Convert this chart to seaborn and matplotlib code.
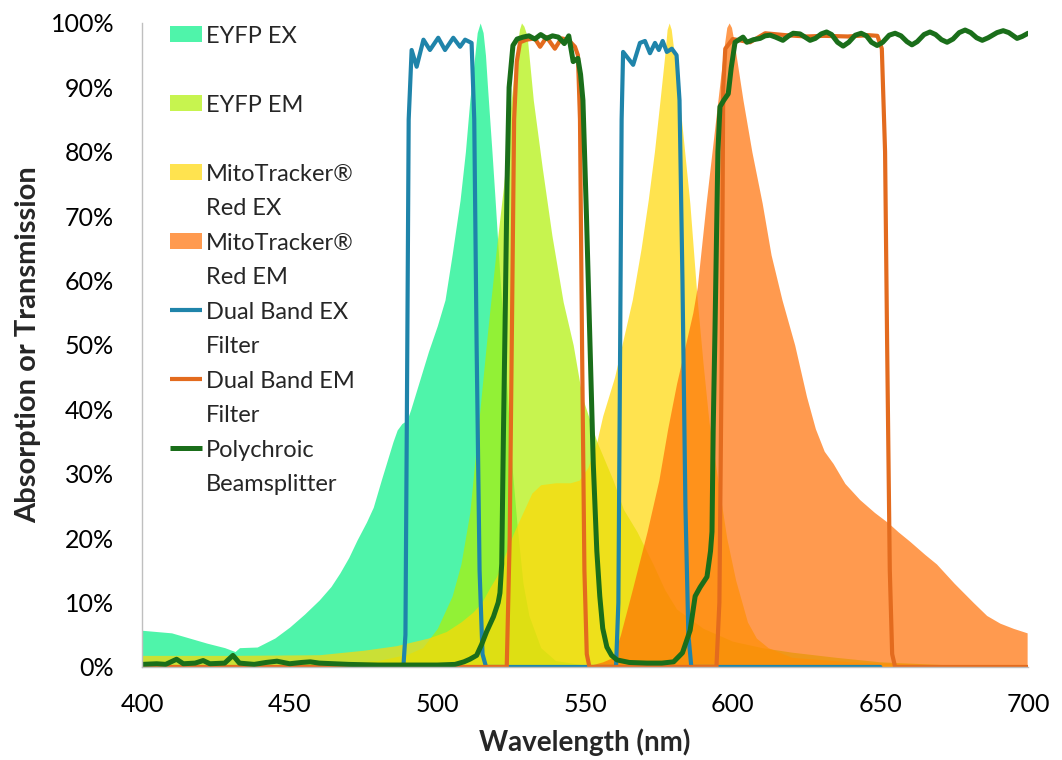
import numpy as np
import pandas as pd
import seaborn as sns
import matplotlib.pyplot as plt
from matplotlib.patches import Patch, Rectangle
from matplotlib.lines import Line2D
from matplotlib.legend_handler import HandlerBase
from matplotlib.ticker import PercentFormatter

# spectra (wavelength nm, percent)
eyfp_ex_wl = [400, 405, 410, 416, 422, 428, 431.5, 433, 439, 445, 450, 455, 460, 464, 467, 470, 472.8,
              476, 478.3, 481, 483, 485, 486.4, 488, 489.7, 491, 493, 495, 497, 500, 502.6, 505, 507.7,
              509.5, 511, 512, 513.5, 514.5, 515.5, 516.3, 517, 518.5, 519.5, 521, 522, 524, 525.5,
              527, 529, 531, 535, 540, 550, 560]
eyfp_ex = [5.7, 5.5, 5.3, 4.5, 3.7, 3.0, 2.4, 3.0, 3.1, 4.5, 6.2, 8.2, 10.4, 12.5, 14.6, 17, 19.7,
           22.5, 24.8, 29, 32, 35, 36.8, 37.8, 38.3, 40, 43, 46, 49, 53, 57, 64, 72.5,
           80, 88, 92, 98.5, 100, 98.5, 95, 90, 80, 73, 62, 55, 40, 30,
           22, 13, 8, 3, 1, 0.3, 0]

eyfp_em_wl = [400, 460, 480, 490, 495, 500, 505, 508, 511, 514, 517, 520, 522.5, 525, 527, 527.8, 528.5,
              529.3, 530.4, 532.5, 535.5, 538.8, 542.6, 546, 549, 554, 559.5, 563, 567.6, 573, 577,
              581, 590, 600, 610, 620, 635, 650, 675, 700]
eyfp_em = [0, 0.5, 1, 2, 3, 6, 11, 16, 24, 38, 52, 65, 75, 88, 96, 99, 100,
           99.5, 98, 88, 77.6, 67, 56.7, 50, 42, 35, 29, 24.5, 21, 16, 12,
           9, 6, 4, 3, 2.3, 1.5, 0.8, 0.3, 0]

mito_ex_wl = [400, 430, 460, 475, 486, 497, 503, 508, 512, 515, 518, 520, 523, 526, 529, 532, 535,
              540, 545, 548, 551, 554, 556, 560, 562.5, 566, 569, 571.4, 573.5, 575.4, 577, 577.8,
              578.5, 579.2, 580, 582, 585.5, 588, 590, 592, 595, 598, 601, 605, 608, 612, 620, 640,
              670, 700]
mito_ex = [1.8, 1.8, 1.9, 2.6, 3.3, 4.5, 5.5, 7, 8.5, 10, 12.5, 14, 17.5, 21, 24, 27, 28.3,
           28.6, 28.6, 29, 31, 35, 39, 45, 50, 57, 65, 72.5, 80, 88, 95, 99,
           100, 99, 96, 88, 72, 57, 47, 38, 29, 20, 13.5, 7, 4.5, 3, 1.5, 0.8,
           0.3, 0]

mito_em_wl = [540, 552, 556, 559.5, 562, 566, 571, 575, 578, 581, 584, 586.5, 588, 591, 593, 595,
              597, 598, 598.8, 599.6, 600.5, 603.5, 606.5, 610, 613, 616.7, 621, 625, 628, 631, 634,
              638, 643, 648, 652.6, 656, 660, 665, 669, 675, 681.5, 686, 690.5, 695, 699.7]
mito_em = [0, 0.3, 0.8, 1.5, 5, 12, 21, 29, 37, 44, 50, 55, 59, 72, 80, 88,
           96, 99.3, 100, 99.3, 97, 88, 80, 72, 64, 57, 50, 42, 37, 33.5, 31.6,
           28.5, 26, 24, 22.4, 21, 19.5, 17.5, 16, 13, 10, 8, 6.8, 6, 5.3]

# filters
ex_filter_wl = [480, 488.5, 489.2, 489.7, 490.3, 491.3, 493, 495.3, 497.5, 500.3, 502.6, 505.4, 507.7,
                509.4, 511.6, 512.5, 513.3, 514.3, 515.3, 516.5, 560.5, 561.3, 561.9, 562.4, 562.9,
                566.3, 568.6, 570.3, 572, 573.7, 575, 576.3, 577.7, 579.4, 581, 582, 583, 584, 585,
                586, 650]
ex_filter = [0, 0, 5, 40, 85, 95.8, 93.2, 97.4, 95.8, 97.7, 95.8, 97.7, 96.3,
             97.4, 96.9, 85, 50, 15, 2, 0, 0, 10, 50, 85, 95.5,
             93.5, 96.9, 97.2, 95.3, 96.9, 95.8, 97.2, 95.5, 96, 95, 88, 60, 25, 5,
             0, 0]

em_filter_wl = [400, 523.5, 524.5, 525.2, 526, 526.9, 528, 530.2, 533, 534.8, 537, 539.8, 542, 544.3,
                546.6, 547.6, 548.3, 549, 549.8, 550.6, 551.5, 594.5, 595.5, 596.3, 596.8, 597.5, 600,
                605.9, 611, 618, 625, 631, 639, 646, 649, 650.5, 651.6, 652.3, 653.2, 654, 655, 700]
em_filter = [0, 0, 20, 50, 85, 94, 97, 97.4, 97.6, 96.3, 97.8, 96, 97.6, 97.4,
             96.3, 95, 85, 50, 15, 2, 0, 0, 10, 49, 90, 96, 97.5,
             97, 98.4, 98.1, 97.9, 98, 97.9, 98.1, 98, 96, 80, 50, 15, 2, 0, 0]

poly_wl = [400, 405, 408, 411.7, 414, 418, 420.7, 423, 428, 430.8, 433, 438, 442, 445.7, 450, 454,
           457, 460, 470, 480, 490, 500, 506, 509, 511, 513.3, 515, 516.7, 519, 520.6, 521.2,
           521.8, 522.4, 522.9, 523.6, 524.3, 525.6, 527, 529, 531, 533, 535, 537, 539, 541, 543,
           544.5, 546, 547.6, 548.5, 549.3, 550.5, 551.7, 552.8, 554, 555, 556, 557.4, 559, 560.8,
           565, 571, 576, 580, 583, 585.6, 587.3, 589, 591.3, 592.5, 593, 593.4, 594, 595, 595.7,
           597, 598.5, 599.5, 600.8, 603.5, 604.8, 607, 609.3, 611, 612.7, 614.5, 617, 619, 620.5,
           622.8, 624.5, 626.2, 628, 630, 631.8, 633.5, 635.5, 637.4, 639.3, 641.5, 643.5, 645.3,
           647, 648.9, 650.8, 653, 655, 657, 659, 660.7, 662.5, 664.8, 666.8, 668.7, 670.7, 672.6,
           674.6, 676.7, 678.7, 680.6, 682.6, 684.5, 686.5, 689.5, 691.6, 693.5, 696.3, 698, 700]
poly = [0.4, 0.5, 0.4, 1.2, 0.5, 0.6, 1.0, 0.5, 0.6, 1.8, 0.6, 0.4, 0.7, 0.9, 0.5, 0.7,
        0.8, 0.6, 0.4, 0.3, 0.3, 0.3, 0.4, 0.8, 1.2, 1.8, 3.5, 5.5, 7.8, 10, 11.5,
        16, 36.8, 52, 75, 90, 96.5, 97.5, 97.8, 98, 97.5, 98.2, 97.6, 98, 97.8, 96.8,
        98, 94, 94.5, 92, 88, 70, 50, 31.6, 18, 11, 6, 3.1, 1.8, 1.1,
        0.7, 0.6, 0.6, 0.8, 2.2, 5.7, 11, 12.4, 14, 18, 21, 36.8, 52, 80, 87,
        88, 89, 93, 97, 97.8, 97, 97.4, 97.6, 98, 98.1, 97.8, 97.3, 98, 98.4,
        98.3, 97.8, 97.3, 97.6, 98.3, 98.6, 98.2, 97, 96.4, 97, 98.1, 98.4, 98,
        97, 96.5, 97, 98.1, 98.4, 98, 97.1, 96.6, 97.1, 98.2, 98.6, 98.2, 97.4, 97,
        97.5, 98.5, 98.9, 98.5, 97.7, 97.3, 97.7, 98.5, 98.8, 98.5, 97.6, 97.9, 98.4]

fill_names = ['EYFP EX\n', 'EYFP EM\n', 'MitoTracker®\nRed EX', 'MitoTracker®\nRed EM']
fill_colors = ['#05F086', '#B0F005', '#FFD805', '#FF7005']
line_names = ['Dual Band EX\nFilter', 'Dual Band EM\nFilter', 'Polychroic\nBeamsplitter']
line_colors = ['#1F84AA', '#E36B1E', '#1A6E1A']
line_widths = [3.0, 3.0, 3.6]

sns.set_theme(style='white')
plt.rcParams['font.family'] = ['Lato', 'DejaVu Sans']

fig = plt.figure(figsize=(10.62, 7.6), dpi=100)
ax = fig.add_axes([0.1337, 0.1224, 0.8343, 0.8474])

fills = [(eyfp_ex_wl, eyfp_ex), (eyfp_em_wl, eyfp_em), (mito_ex_wl, mito_ex), (mito_em_wl, mito_em)]
for (wl, val), c in zip(fills, fill_colors):
    ax.fill_between(wl, 0, val, color=c, alpha=0.7, linewidth=0)

lines = [(ex_filter_wl, ex_filter), (em_filter_wl, em_filter), (poly_wl, poly)]
for (wl, val), c, lw in zip(lines, line_colors, line_widths):
    df = pd.DataFrame({'wl': wl, 'val': val})
    sns.lineplot(data=df, x='wl', y='val', estimator=None, sort=False, color=c, lw=lw, ax=ax)

ax.set_xlim(400, 700)
ax.set_ylim(0, 100)
ax.set_xticks(np.arange(400, 701, 50))
ax.set_yticks(np.arange(0, 101, 10))
ax.yaxis.set_major_formatter(PercentFormatter(decimals=0))
ax.tick_params(axis='both', direction='out', length=7, width=1, color='#BFBFBF',
               labelsize=18, labelcolor='black')
ax.tick_params(axis='x', pad=12)
ax.tick_params(axis='y', pad=13)
for s in ['top', 'right']:
    ax.spines[s].set_visible(False)
for s in ['left', 'bottom']:
    ax.spines[s].set_color('#BFBFBF')
    ax.spines[s].set_linewidth(1)

ax.set_xlabel('Wavelength (nm)', fontsize=20, fontweight='bold', labelpad=9)
ax.set_ylabel('Absorption or Transmission', fontsize=21, fontweight='bold', labelpad=7)

# legend: handle sits on the first line of each two-line label
FIRST_LINE = 1.2


class FirstLineHandler(HandlerBase):
    def create_artists(self, legend, orig_handle, xdescent, ydescent, width, height, fontsize, trans):
        yc = FIRST_LINE * fontsize
        if isinstance(orig_handle, Line2D):
            art = Line2D([-xdescent, -xdescent + width], [yc, yc], color=orig_handle.get_color(),
                         linewidth=orig_handle.get_linewidth(), solid_capstyle='butt')
        else:
            h = 0.68 * fontsize
            art = Rectangle((-xdescent, yc - h / 2), width, h,
                            facecolor=orig_handle.get_facecolor(), edgecolor='none')
        art.set_transform(trans)
        return [art]


handles = [Patch(facecolor=c, alpha=0.7) for c in fill_colors]
handles += [Line2D([0], [0], color=c, lw=lw) for c, lw in zip(line_colors, line_widths)]
labels = fill_names + line_names
hm = {h: FirstLineHandler() for h in handles}
leg = ax.legend(handles, labels, handler_map=hm, loc='upper left', bbox_to_anchor=(0.0316, 0.9953),
                frameon=False, fontsize=17, borderpad=0, borderaxespad=0, handlelength=1.355,
                handletextpad=0.15, labelspacing=0.58)
for t in leg.get_texts():
    t.set_linespacing(1.78)

fig.savefig('out.png', dpi=100)
